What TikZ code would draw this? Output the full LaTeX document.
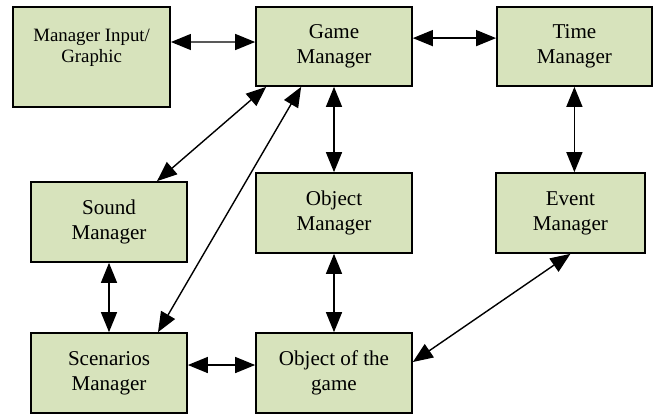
\documentclass[tikz,border=0pt]{standalone}
\usepackage{fontspec}
\setmainfont{Liberation Serif}
\usepackage{xcolor}
\usetikzlibrary{arrows.meta}

\definecolor{boxgreen}{RGB}{215,227,188}

\begin{document}
\begin{tikzpicture}[thick,
   mgr node/.style={draw,line width=1.2pt,fill=boxgreen,align=center,
     minimum width=3.9cm,minimum height=2cm,inner sep=2pt,
     font=\rmfamily\fontsize{15}{17.8}\selectfont}]

\tikzstyle {link} = [{Triangle[length=0.5cm,width=0.4cm]}-{Triangle[length=0.5cm,width=0.4cm]}, line width=1pt];

\useasboundingbox (0,0) rectangle (16.35,-10.35);

\node[mgr node,minimum width=3.925cm,minimum height=2.5cm] (mig) at (2.29,-1.425){};
\node[font=\rmfamily\fontsize{13.4}{15}\selectfont,align=center,anchor=north] (migtext) at ([yshift=-0.45cm]mig.north){Manager Input/\\Graphic};
\node[mgr node,minimum height=1.975cm] (game) at (8.35,-1.1625){Game\\Manager};
\node[mgr node,minimum height=1.975cm,minimum width=3.875cm] (time) at (14.36,-1.1625){Time\\Manager};
\node[mgr node] (sound) at (2.725,-5.55){Sound\\Manager};
\node[mgr node] (objm) at (8.35,-5.325){Object\\Manager};
\node[mgr node,minimum width=3.725cm] (event) at (14.26,-5.325){Event\\Manager};
\node[mgr node] (scen) at (2.725,-9.325){Scenarios\\Manager};
\node[mgr node] (objg) at (8.35,-9.325){Object of the\\game};

%\draw [link] (mig) -- (game);

\path ([yshift=0.375cm]mig.east) edge [link] ([yshift=0.1125cm]game.west);
\path ([yshift=0.21cm]game.east) edge [link] ([yshift=0.21cm]time.west);
\path (game.south) edge [link] (objm.north);
\path (time.south) edge [link] (time.south |- event.north);
\path ([xshift=0.275cm]game.south west) edge [link] ([xshift=1.2cm]sound.north);
\path ([xshift=1.15cm]game.south west) edge [link] ([xshift=1.225cm]scen.north);
\path (sound.south) edge [link] (scen.north);
\path ([yshift=0.2cm]scen.east) edge [link] ([yshift=0.2cm]objg.west);
\path (objm.south) edge [link] (objg.north);
\path (event.south) edge [link] ([yshift=0.275cm]objg.east);

\end{tikzpicture}
\end{document}
